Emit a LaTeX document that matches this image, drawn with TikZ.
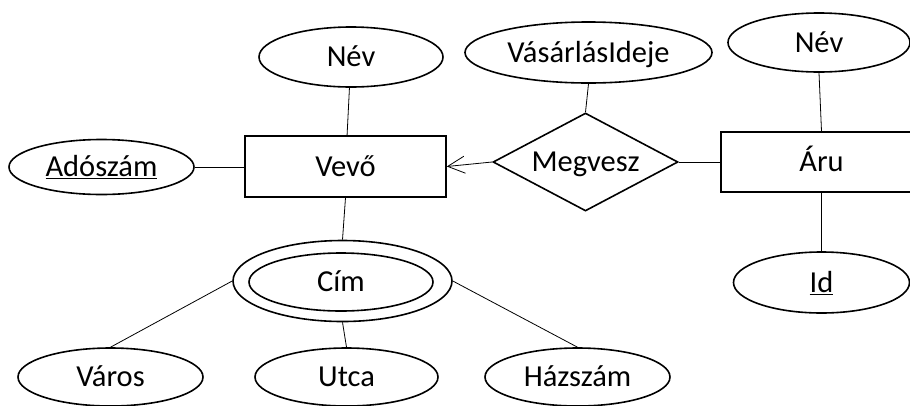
\documentclass[tikz,border=0pt]{standalone}
\usepackage{fontspec}
\setmainfont{Carlito}
\usetikzlibrary{shapes.geometric,arrows.meta}
\tikzset{
  lbl/.style={font=\fontsize{30.5}{36}\selectfont,text height=19.5pt,text depth=0pt},
  attr/.style={ellipse,draw,line width=1.6pt,inner sep=0pt,lbl},
  ent/.style={rectangle,draw,line width=1.6pt,inner sep=0pt,minimum width=201pt,minimum height=61pt,lbl},
  rel/.style={diamond,draw,line width=1.6pt,inner sep=0pt,shape aspect=1.9,minimum width=185pt,minimum height=98pt,lbl},
  conn/.style={line width=0.8pt},
}
\begin{document}
\begin{tikzpicture}[x=1pt,y=-1pt]
\clip (0,0) rectangle (910,405);
\fill[white] (0,0) rectangle (910,405);
% entities
\node[ent] (vevo) at (345.5,166.5) {Vevő};
\node[ent,minimum height=60pt] (aru) at (821.5,162) {Áru};
% relationship
\node[rel] (megvesz) at (585.5,162) {Megvesz};
% attributes
\node[attr,minimum width=184pt,minimum height=60pt] (nevl) at (351,57) {Név};
\node[attr,minimum width=185pt,minimum height=55pt] (adoszam) at (101.5,167) {\underline{Adószám}};
\node[attr,minimum width=247pt,minimum height=61pt] (vasido) at (588.5,52.5) {VásárlásIdeje};
\node[attr,minimum width=182pt,minimum height=59pt] (nevr) at (819,42.5) {Név};
\node[attr,minimum width=176pt,minimum height=61pt] (id) at (821.5,282.5) {\underline{Id}};
\node[attr,minimum width=219pt,minimum height=81pt] (cim) at (342.5,281) {};
\node[attr,minimum width=184pt,minimum height=58pt] (ciminner) at (341,282) {Cím};
\node[attr,minimum width=185pt,minimum height=58pt] (varos) at (110.5,377) {Város};
\node[attr,minimum width=183pt,minimum height=58pt] (utca) at (346.5,377) {Utca};
\node[attr,minimum width=185pt,minimum height=58pt] (hazszam) at (577.5,377) {Házszám};
% connectors
\draw[conn] (nevl) -- (vevo);
\draw[conn] (adoszam) -- (vevo.west |- adoszam.east);
\draw[conn] (vevo.south) -- (cim.north);
\draw[conn] (cim.west) -- (varos.north);
\draw[conn] (cim.south) -- (utca.north);
\draw[conn] (cim.east) -- (hazszam.north);
\draw[conn,-{Straight Barb[length=17pt,width=17pt,line width=0.8pt]}] (megvesz.west) -- (vevo.east);
\draw[conn] (vasido.south) -- (megvesz.north);
\draw[conn] (megvesz.east) -- (aru.west);
\draw[conn] (nevr.south) -- (aru.north);
\draw[conn] (aru.south) -- (id.north);
\end{tikzpicture}
\end{document}
